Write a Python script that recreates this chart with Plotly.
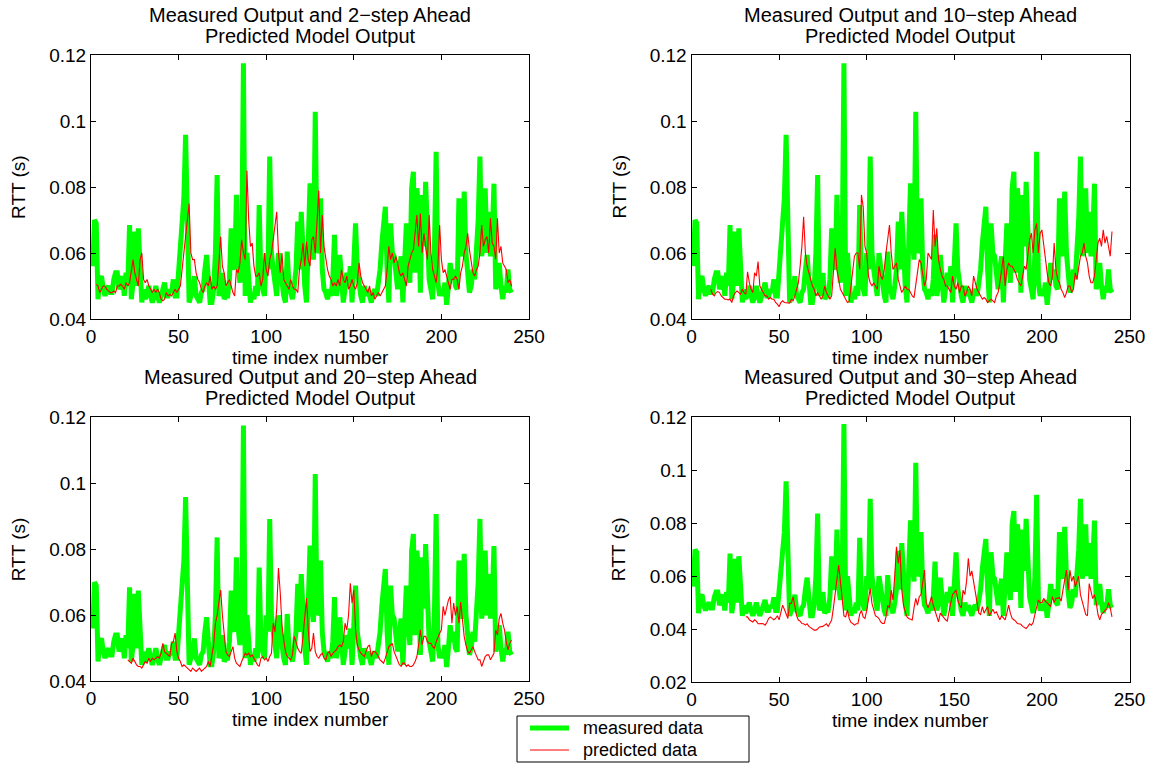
import plotly.graph_objects as go

# ---------------- data ----------------
time_index = list(range(1, 241))

measured = [
    0.056, 0.070, 0.069, 0.046, 0.052, 0.053, 0.049, 0.047, 0.049, 0.050,
    0.048, 0.048, 0.052, 0.054, 0.054, 0.049, 0.051, 0.053, 0.047, 0.054,
    0.050, 0.0685, 0.046, 0.051, 0.0665, 0.050, 0.0675, 0.052, 0.045, 0.049,
    0.046, 0.048, 0.050, 0.047, 0.045, 0.047, 0.050, 0.047, 0.045, 0.047,
    0.049, 0.051, 0.047, 0.047, 0.049, 0.048, 0.052, 0.047, 0.047, 0.055,
    0.060, 0.0675, 0.0766, 0.0958, 0.059, 0.045, 0.047, 0.049, 0.053, 0.047,
    0.046, 0.045, 0.048, 0.049, 0.055, 0.0594, 0.052, 0.045, 0.045, 0.049,
    0.060, 0.0836, 0.047, 0.049, 0.054, 0.046, 0.047, 0.047, 0.052, 0.0675,
    0.057, 0.055, 0.0776, 0.056, 0.051, 0.059, 0.1175, 0.047, 0.060, 0.050,
    0.045, 0.048, 0.046, 0.050, 0.047, 0.0745, 0.052, 0.049, 0.047, 0.060,
    0.055, 0.0892, 0.060, 0.055, 0.050, 0.047, 0.060, 0.055, 0.051, 0.047,
    0.045, 0.0604, 0.050, 0.047, 0.046, 0.050, 0.055, 0.0695, 0.055, 0.0725,
    0.058, 0.050, 0.045, 0.065, 0.0811, 0.065, 0.058, 0.1028, 0.060, 0.062,
    0.0766, 0.055, 0.049, 0.048, 0.046, 0.049, 0.047, 0.052, 0.0655, 0.047,
    0.050, 0.0594, 0.052, 0.045, 0.049, 0.054, 0.050, 0.056, 0.045, 0.055,
    0.069, 0.055, 0.049, 0.047, 0.045, 0.050, 0.047, 0.049, 0.047, 0.045,
    0.048, 0.049, 0.047, 0.051, 0.055, 0.063, 0.068, 0.074, 0.055, 0.045,
    0.069, 0.060, 0.059, 0.052, 0.049, 0.055, 0.059, 0.045, 0.060, 0.069,
    0.058, 0.051, 0.0796, 0.0846, 0.054, 0.0796, 0.073, 0.048, 0.0776, 0.062,
    0.0816, 0.059, 0.052, 0.049, 0.046, 0.060, 0.0907, 0.051, 0.047, 0.049,
    0.047, 0.051, 0.0443, 0.050, 0.057, 0.052, 0.055, 0.050, 0.049, 0.0766,
    0.062, 0.059, 0.0786, 0.060, 0.055, 0.048, 0.050, 0.055, 0.052, 0.063,
    0.070, 0.0892, 0.059, 0.064, 0.0796, 0.060, 0.0725, 0.059, 0.065, 0.081,
    0.049, 0.052, 0.057, 0.050, 0.046, 0.050, 0.048, 0.055, 0.049, 0.048,
]

# 2-step ahead prediction, t = 3..240
pred2_start = 3
pred2 = [
    0.0505, 0.050, 0.048, 0.049, 0.050, 0.050, 0.049, 0.0485,
    0.048, 0.048, 0.0485, 0.048, 0.050, 0.050, 0.0505, 0.050, 0.049, 0.051,
    0.050, 0.051, 0.055, 0.058, 0.054, 0.052, 0.050, 0.058, 0.060, 0.052,
    0.051, 0.052, 0.050, 0.049, 0.048, 0.049, 0.048, 0.049, 0.048, 0.046,
    0.0455, 0.046, 0.048, 0.047, 0.0475, 0.047, 0.048, 0.049, 0.048, 0.049,
    0.050, 0.055, 0.060, 0.065, 0.072, 0.075, 0.060, 0.058, 0.058, 0.054,
    0.052, 0.051, 0.049, 0.048, 0.050, 0.051, 0.050, 0.053, 0.049, 0.050,
    0.049, 0.050, 0.057, 0.065, 0.056, 0.054, 0.050, 0.051, 0.052, 0.050,
    0.048, 0.047, 0.055, 0.054, 0.057, 0.064, 0.060, 0.058, 0.085, 0.070,
    0.062, 0.063, 0.056, 0.053, 0.053, 0.054, 0.050, 0.052, 0.060, 0.055,
    0.053, 0.058, 0.060, 0.064, 0.068, 0.0725, 0.060, 0.054, 0.060, 0.052,
    0.051, 0.050, 0.049, 0.052, 0.050, 0.049, 0.049, 0.048, 0.055, 0.058,
    0.063, 0.056, 0.0635, 0.058, 0.056, 0.064, 0.065, 0.060, 0.070, 0.079,
    0.060, 0.0715, 0.062, 0.058, 0.055, 0.053, 0.052, 0.050, 0.051, 0.050,
    0.052, 0.050, 0.055, 0.052, 0.051, 0.053, 0.049, 0.050, 0.052, 0.050,
    0.049, 0.051, 0.057, 0.053, 0.051, 0.050, 0.049, 0.048, 0.050, 0.047,
    0.048, 0.046, 0.047, 0.048, 0.047, 0.048, 0.049, 0.050, 0.055, 0.062,
    0.058, 0.060, 0.057, 0.059, 0.057, 0.054, 0.053, 0.054, 0.052, 0.050,
    0.056, 0.058, 0.060, 0.061, 0.066, 0.0715, 0.062, 0.072, 0.060, 0.066,
    0.062, 0.058, 0.0715, 0.060, 0.055, 0.053, 0.051, 0.056, 0.0685, 0.058,
    0.054, 0.055, 0.053, 0.051, 0.049, 0.052, 0.052, 0.053, 0.052, 0.049,
    0.054, 0.056, 0.060, 0.062, 0.066, 0.061, 0.058, 0.054, 0.053, 0.055,
    0.056, 0.060, 0.0685, 0.062, 0.064, 0.065, 0.060, 0.0705, 0.063, 0.062,
    0.058, 0.0705, 0.060, 0.062, 0.057, 0.056, 0.055, 0.051, 0.052, 0.050,
]

# 10-step ahead prediction, t = 11..240
pred10_start = 11
pred10 = [
    0.049, 0.0475, 0.047, 0.048, 0.0483, 0.048, 0.047, 0.0465, 0.046, 0.046,
    0.0458, 0.046, 0.045, 0.047, 0.048, 0.0485, 0.048, 0.0475, 0.049, 0.048,
    0.0475, 0.0543, 0.051, 0.049, 0.048, 0.054, 0.053, 0.0574, 0.050, 0.049,
    0.048, 0.047, 0.047, 0.046, 0.0465, 0.046, 0.046, 0.045, 0.0445, 0.0437,
    0.045, 0.0455, 0.045, 0.045, 0.045, 0.0448, 0.046, 0.0455, 0.047, 0.049,
    0.051, 0.056, 0.062, 0.071, 0.060, 0.056, 0.054, 0.052, 0.050, 0.049,
    0.047, 0.048, 0.047, 0.046, 0.047, 0.050, 0.048, 0.047, 0.046, 0.047,
    0.053, 0.0614, 0.055, 0.052, 0.049, 0.048, 0.047, 0.046, 0.045, 0.0453,
    0.050, 0.053, 0.059, 0.060, 0.060, 0.055, 0.0776, 0.074, 0.062, 0.060,
    0.053, 0.051, 0.050, 0.051, 0.050, 0.049, 0.056, 0.053, 0.052, 0.055,
    0.060, 0.064, 0.0685, 0.060, 0.055, 0.056, 0.057, 0.052, 0.050, 0.048,
    0.049, 0.050, 0.049, 0.049, 0.048, 0.047, 0.0465, 0.050, 0.054, 0.058,
    0.057, 0.053, 0.050, 0.052, 0.060, 0.059, 0.058, 0.073, 0.062, 0.0675,
    0.058, 0.055, 0.053, 0.052, 0.050, 0.050, 0.049, 0.048, 0.053, 0.050,
    0.049, 0.051, 0.048, 0.050, 0.050, 0.047, 0.048, 0.050, 0.049, 0.047,
    0.053, 0.051, 0.049, 0.048, 0.047, 0.046, 0.0465, 0.046, 0.045, 0.0455,
    0.046, 0.0455, 0.045, 0.047, 0.048, 0.051, 0.055, 0.0589, 0.050, 0.055,
    0.057, 0.056, 0.056, 0.055, 0.054, 0.052, 0.051, 0.050, 0.053, 0.056,
    0.055, 0.060, 0.064, 0.066, 0.060, 0.067, 0.069, 0.060, 0.066, 0.067,
    0.062, 0.058, 0.054, 0.051, 0.050, 0.053, 0.063, 0.055, 0.052, 0.051,
    0.049, 0.048, 0.0465, 0.048, 0.050, 0.050, 0.048, 0.049, 0.054, 0.052,
    0.056, 0.059, 0.060, 0.063, 0.059, 0.057, 0.053, 0.051, 0.051, 0.053,
    0.058, 0.063, 0.0645, 0.062, 0.067, 0.063, 0.065, 0.062, 0.059, 0.0665,
]

# 20-step ahead prediction, t = 21..240
pred20_start = 21
pred20 = [
    0.0465, 0.046, 0.0455, 0.047, 0.046, 0.045, 0.0445, 0.0445, 0.044, 0.045,
    0.046, 0.0455, 0.047, 0.046, 0.047, 0.0465, 0.047, 0.0475, 0.047, 0.0485,
    0.0515, 0.049, 0.0485, 0.048, 0.0475, 0.0515, 0.052, 0.0546, 0.049, 0.047,
    0.046, 0.0445, 0.045, 0.0445, 0.044, 0.0435, 0.043, 0.044, 0.0435, 0.043,
    0.0435, 0.044, 0.043, 0.0435, 0.044, 0.0445, 0.046, 0.0445, 0.048, 0.051,
    0.0576, 0.060, 0.064, 0.0677, 0.060, 0.053, 0.049, 0.048, 0.0475, 0.049,
    0.0505, 0.047, 0.0455, 0.045, 0.0445, 0.046, 0.0475, 0.0485, 0.048, 0.0485,
    0.0475, 0.048, 0.047, 0.046, 0.045, 0.0445, 0.047, 0.0475, 0.0465, 0.047,
    0.046, 0.0475, 0.0485, 0.0576, 0.055, 0.062, 0.0743, 0.067, 0.057, 0.0525,
    0.049, 0.0475, 0.047, 0.0465, 0.048, 0.0536, 0.052, 0.050, 0.049, 0.0485,
    0.0536, 0.060, 0.0652, 0.0556, 0.049, 0.050, 0.0546, 0.049, 0.0475, 0.047,
    0.048, 0.0485, 0.047, 0.0465, 0.0485, 0.049, 0.0475, 0.0485, 0.049, 0.0495,
    0.0505, 0.051, 0.0505, 0.052, 0.0576, 0.0556, 0.060, 0.0697, 0.0637, 0.0677,
    0.0556, 0.051, 0.0495, 0.0485, 0.048, 0.0475, 0.049, 0.0505, 0.051, 0.0475,
    0.049, 0.049, 0.0485, 0.0475, 0.0465, 0.046, 0.0455, 0.047, 0.0485, 0.0505,
    0.051, 0.0515, 0.049, 0.0475, 0.046, 0.045, 0.0445, 0.0455, 0.0455, 0.0445,
    0.045, 0.0445, 0.0445, 0.045, 0.046, 0.0475, 0.051, 0.0556, 0.051, 0.0536,
    0.0536, 0.052, 0.0515, 0.0515, 0.0505, 0.050, 0.052, 0.0536, 0.0546, 0.0556,
    0.0627, 0.060, 0.062, 0.0646, 0.0657, 0.0576, 0.0637, 0.060, 0.0627, 0.0576,
    0.064, 0.0576, 0.0536, 0.051, 0.049, 0.0485, 0.0495, 0.0505, 0.049, 0.0475,
    0.0465, 0.0465, 0.0445, 0.046, 0.0475, 0.048, 0.048, 0.0465, 0.0475, 0.0485,
    0.0556, 0.054, 0.059, 0.0606, 0.0576, 0.0556, 0.052, 0.0495, 0.0515, 0.0525,
]

# 30-step ahead prediction, t = 31..240
pred30_start = 31
pred30 = [
    0.0446, 0.0446, 0.0435, 0.043, 0.0427, 0.0435, 0.043, 0.042, 0.0421, 0.0421,
    0.042, 0.0415, 0.0425, 0.044, 0.0446, 0.044, 0.0435, 0.044, 0.045, 0.0435,
    0.047, 0.049, 0.0475, 0.0455, 0.044, 0.0497, 0.0497, 0.0522, 0.048, 0.045,
    0.0434, 0.043, 0.0421, 0.042, 0.0415, 0.042, 0.041, 0.0405, 0.040, 0.0396,
    0.0396, 0.040, 0.0408, 0.041, 0.041, 0.0415, 0.042, 0.041, 0.0425, 0.0434,
    0.048, 0.0534, 0.060, 0.0642, 0.058, 0.050, 0.045, 0.0446, 0.0472, 0.044,
    0.0425, 0.0421, 0.0415, 0.042, 0.042, 0.0456, 0.047, 0.0446, 0.044, 0.047,
    0.0512, 0.0553, 0.0497, 0.047, 0.045, 0.0446, 0.044, 0.0427, 0.0421, 0.0421,
    0.0446, 0.049, 0.048, 0.0547, 0.051, 0.060, 0.0711, 0.0648, 0.0698, 0.055,
    0.049, 0.0465, 0.0446, 0.044, 0.0437, 0.0434, 0.048, 0.0516, 0.049, 0.0522,
    0.053, 0.058, 0.0623, 0.050, 0.048, 0.050, 0.0522, 0.049, 0.047, 0.045,
    0.0427, 0.046, 0.045, 0.044, 0.0435, 0.043, 0.047, 0.050, 0.053, 0.054,
    0.0547, 0.051, 0.049, 0.048, 0.0547, 0.053, 0.058, 0.0667, 0.060, 0.062,
    0.058, 0.054, 0.0485, 0.046, 0.0455, 0.0485, 0.046, 0.0475, 0.0485, 0.045,
    0.0465, 0.0475, 0.046, 0.0465, 0.045, 0.0435, 0.045, 0.044, 0.0435, 0.046,
    0.049, 0.046, 0.044, 0.0435, 0.043, 0.0421, 0.042, 0.0418, 0.041, 0.0405,
    0.0402, 0.041, 0.042, 0.0415, 0.0425, 0.0455, 0.048, 0.051, 0.050, 0.050,
    0.0516, 0.0505, 0.050, 0.049, 0.0485, 0.0522, 0.050, 0.0516, 0.0516, 0.052,
    0.0505, 0.0547, 0.0595, 0.0623, 0.0547, 0.0623, 0.058, 0.060, 0.056, 0.058,
    0.060, 0.053, 0.050, 0.048, 0.0455, 0.045, 0.0572, 0.054, 0.0515, 0.053,
    0.050, 0.0455, 0.0435, 0.0455, 0.0465, 0.047, 0.0475, 0.050, 0.048, 0.0446,
]

step_labels = ["2", "10", "20", "30"]
legend_labels = ["measured data", "predicted data"]
x_ticks = [0, 50, 100, 150, 200, 250]
y_ticks_top = [0.04, 0.06, 0.08, 0.1, 0.12]
y_ticks_30 = [0.02, 0.04, 0.06, 0.08, 0.1, 0.12]

GREEN = "#00ff00"
RED = "#ff0000"

# ---------------- layout geometry ----------------
W, H = 1159, 764
FONT = "Liberation Sans, Arial, Helvetica, sans-serif"

def px_x(x):
    return x / W

def px_y(y):
    return 1 - y / H

panels = [
    # (left, right, top, bottom) in pixels
    (91, 529, 55, 319),
    (691.5, 1129.5, 55, 319),
    (91, 529, 417.3, 681.3),
    (691.5, 1129.5, 417.3, 682),
]

preds = [
    (pred2_start, pred2),
    (pred10_start, pred10),
    (pred20_start, pred20),
    (pred30_start, pred30),
]

fig = go.Figure()

for i, ((ps, pv), step) in enumerate(zip(preds, step_labels)):
    xa = "x" if i == 0 else f"x{i+1}"
    ya = "y" if i == 0 else f"y{i+1}"
    fig.add_trace(go.Scatter(
        x=time_index, y=measured, mode="lines", name=legend_labels[0],
        line=dict(color=GREEN, width=5), xaxis=xa, yaxis=ya,
        showlegend=False,
    ))
    fig.add_trace(go.Scatter(
        x=list(range(ps, ps + len(pv))), y=pv, mode="lines", name=legend_labels[1],
        line=dict(color=RED, width=1.1), xaxis=xa, yaxis=ya,
        showlegend=False,
    ))

layout = dict(
    width=W, height=H,
    margin=dict(l=0, r=0, t=0, b=0, autoexpand=False),
    paper_bgcolor="white", plot_bgcolor="white",
    font=dict(family=FONT, size=19, color="black"),
    showlegend=False,
)

annotations = []
for i, (l, r, t, b) in enumerate(panels):
    xk = "xaxis" if i == 0 else f"xaxis{i+1}"
    yk = "yaxis" if i == 0 else f"yaxis{i+1}"
    ya = "y" if i == 0 else f"y{i+1}"
    xa = "x" if i == 0 else f"x{i+1}"
    yt = y_ticks_30 if i == 3 else y_ticks_top
    layout[xk] = dict(
        domain=[px_x(l), px_x(r)], anchor=ya, range=[0, 250],
        tickvals=x_ticks, ticktext=[str(v) for v in x_ticks],
        ticks="inside", ticklen=5, tickcolor="black", tickwidth=1,
        showline=True, linecolor="black", linewidth=1, mirror="ticks",
        showgrid=False, zeroline=False, automargin=False,
        tickfont=dict(family=FONT, size=19, color="black"),
    )
    layout[yk] = dict(
        domain=[px_y(b), px_y(t)], anchor=xa, range=[yt[0], yt[-1]],
        tickvals=yt, ticktext=[f"{v:g}" for v in yt],
        ticks="inside", ticklen=5, tickcolor="black", tickwidth=1,
        showline=True, linecolor="black", linewidth=1, mirror="ticks",
        showgrid=False, zeroline=False, automargin=False,
        tickfont=dict(family=FONT, size=19, color="black"),
    )
    cx = (l + r) / 2
    cy = (t + b) / 2
    annotations.append(dict(
        text=f"Measured Output and {step_labels[i]}\u2212step Ahead",
        x=px_x(cx), y=px_y(t - 40), xref="paper", yref="paper",
        xanchor="center", yanchor="middle", showarrow=False,
        font=dict(family=FONT, size=20, color="black"),
    ))
    annotations.append(dict(
        text="Predicted Model Output",
        x=px_x(cx), y=px_y(t - 19), xref="paper", yref="paper",
        xanchor="center", yanchor="middle", showarrow=False,
        font=dict(family=FONT, size=20, color="black"),
    ))
    annotations.append(dict(
        text="time index number",
        x=px_x(cx), y=px_y(b + 38), xref="paper", yref="paper",
        xanchor="center", yanchor="middle", showarrow=False,
        font=dict(family=FONT, size=19, color="black"),
    ))
    annotations.append(dict(
        text="RTT (s)",
        x=px_x(l - 73), y=px_y(cy), xref="paper", yref="paper",
        xanchor="center", yanchor="middle", showarrow=False, textangle=-90,
        font=dict(family=FONT, size=19, color="black"),
    ))

# ---- legend box (drawn as a key, matching the MATLAB legend) ----
LEG_L, LEG_R, LEG_T, LEG_B = 517, 749, 716, 762
shapes = [
    dict(type="rect", xref="paper", yref="paper",
         x0=px_x(LEG_L), x1=px_x(LEG_R), y0=px_y(LEG_B), y1=px_y(LEG_T),
         line=dict(color="black", width=1), fillcolor="white", layer="above"),
]
for k, (lab, col, lw) in enumerate([(legend_labels[0], GREEN, 5), (legend_labels[1], RED, 1.1)]):
    yy = 728 + k * 22
    shapes.append(dict(type="line", xref="paper", yref="paper",
                       x0=px_x(530), x1=px_x(569), y0=px_y(yy), y1=px_y(yy),
                       line=dict(color=col, width=lw), layer="above"))
    annotations.append(dict(
        text=lab, x=px_x(581), y=px_y(yy), xref="paper", yref="paper",
        xanchor="left", yanchor="middle", showarrow=False,
        font=dict(family=FONT, size=18, color="black"),
    ))

layout["annotations"] = annotations
layout["shapes"] = shapes
fig.update_layout(**layout)

fig.write_html("out.html")
